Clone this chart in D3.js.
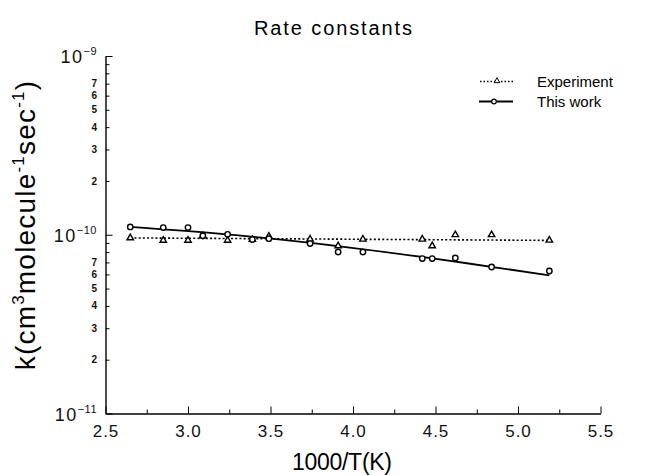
<!DOCTYPE html>
<html>
<head>
<meta charset="utf-8">
<script src="https://cdn.jsdelivr.net/npm/d3@7"></script>
<style>
  body { margin: 0; background: #fff; }
  svg { display: block; font-family: "Liberation Sans", Arial, Helvetica, sans-serif; }
</style>
</head>
<body>
<div id="chart"></div>
<script>
// valores (k em unidades de 1e-10 cm3 molecule-1 s-1)
const invT = [2.65, 2.85, 3.00, 3.09, 3.24, 3.39, 3.49, 3.74, 3.91, 4.06, 4.42, 4.48, 4.62, 4.84, 5.19];
const kExperiment = [0.96, 0.93, 0.93, 0.985, 0.93, 0.94, 0.98, 0.944, 0.866, 0.944, 0.944, 0.866, 1.0, 1.0, 0.932];
const kThisWork = [1.106, 1.097, 1.097, 0.987, 1.006, 0.94, 0.951, 0.893, 0.801, 0.801, 0.736, 0.736, 0.741, 0.660, 0.627];

// curvas ajustadas
const fitExpX = [2.65, 5.19];
const fitExpK = [0.96, 0.93];
const fitWorkX = [2.65, 3.29, 3.98, 4.68, 5.19];
const fitWorkK = [1.106, 0.994, 0.848, 0.695, 0.593];

// eixos
const xTicks = [2.5, 3.0, 3.5, 4.0, 4.5, 5.0, 5.5];
const xMinorTicks = [2.75, 3.25, 3.75, 4.25, 4.75, 5.25];
const yDecades = [1e-11, 1e-10, 1e-9];
const yExponents = ["\u221211", "\u221210", "\u22129"];
const yMinorMult = [2, 3, 4, 5, 6, 7, 8, 9];
const yMinorLabelled = [2, 3, 4, 5, 6, 7];

const width = 649;
const height = 475;

const x = d3.scaleLinear().domain([2.5, 5.5]).range([105.5, 600.5]);
const y = d3.scaleLog().domain([1e-11, 1e-9]).range([413.5, 56]);

const svg = d3.select("#chart")
    .append("svg")
    .attr("width", width)
    .attr("height", height);

svg.append("rect").attr("width", width).attr("height", height).attr("fill", "#fff");

// titulo
svg.append("text")
    .attr("x", 333)
    .attr("y", 35)
    .attr("text-anchor", "middle")
    .attr("font-size", 20)
    .attr("textLength", 158)
    .attr("lengthAdjust", "spacing")
    .text("Rate constants");

// eixo X
const minorY = yDecades.slice(0, 2).flatMap(d => yMinorMult.map(m => d * m));

const gx = svg.append("g")
    .attr("transform", `translate(0,${y(1e-11)})`)
    .call(d3.axisBottom(x).tickValues(xTicks).tickSize(-7).tickSizeOuter(0).tickPadding(11).tickFormat(d3.format(".1f")));
gx.select(".domain").attr("stroke-width", 1.4);
gx.selectAll("text").attr("font-size", 17).attr("letter-spacing", 1).attr("fill", "#111");
gx.attr("font-family", null);

svg.append("g")
    .attr("transform", `translate(0,${y(1e-11)})`)
    .call(d3.axisBottom(x).tickValues(xMinorTicks).tickSize(-4).tickFormat(""))
    .select(".domain").remove();

// eixo Y
const gy = svg.append("g")
    .attr("transform", `translate(${x(2.5)},0)`)
    .call(d3.axisLeft(y).tickValues(yDecades).tickSize(-7).tickSizeOuter(0).tickFormat(""));
gy.select(".domain").attr("stroke-width", 1.4);

svg.append("g")
    .attr("transform", `translate(${x(2.5)},0)`)
    .call(d3.axisLeft(y).tickValues(minorY).tickSize(-4).tickFormat(""))
    .select(".domain").remove();

// rotulos das decadas
const decLabels = svg.append("g")
    .selectAll("text")
    .data(yDecades)
    .join("text")
    .attr("x", 97)
    .attr("y", d => y(d) + 7)
    .attr("text-anchor", "end")
    .attr("font-size", 18)
    .attr("letter-spacing", 1.5)
    .attr("fill", "#111");
decLabels.append("tspan").text("10");
decLabels.append("tspan")
    .attr("font-size", 11)
    .attr("dy", -8)
    .attr("letter-spacing", 0.5)
    .text((d, i) => yExponents[i]);

// rotulos menores
svg.append("g")
    .selectAll("text")
    .data(yDecades.slice(0, 2).flatMap(d => yMinorLabelled.map(m => d * m)))
    .join("text")
    .attr("x", 97)
    .attr("y", d => y(d))
    .attr("dy", "0.36em")
    .attr("text-anchor", "end")
    .attr("font-size", 10)
    .attr("font-weight", 600)
    .attr("fill", "#111")
    .text(d => Math.round(d / Math.pow(10, Math.floor(Math.log10(d) + 1e-9))));

// titulos dos eixos
svg.append("text")
    .attr("x", 342)
    .attr("y", 470)
    .attr("text-anchor", "middle")
    .attr("font-size", 23)
    .attr("textLength", 100)
    .attr("lengthAdjust", "spacing")
    .text("1000/T(K)");

const yTitle = svg.append("text")
    .attr("transform", "translate(35,225) rotate(-90)")
    .attr("text-anchor", "middle")
    .attr("font-size", 28)
    .attr("letter-spacing", 1.2);
yTitle.append("tspan").text("k(cm");
yTitle.append("tspan").attr("font-size", 17).attr("dy", -11).text("3");
yTitle.append("tspan").attr("dy", 11).text("molecule");
yTitle.append("tspan").attr("font-size", 17).attr("dy", -11).text("-1");
yTitle.append("tspan").attr("dy", 11).text("sec");
yTitle.append("tspan").attr("font-size", 17).attr("dy", -11).text("-1");
yTitle.append("tspan").attr("dy", 11).text(")");

// curvas
const line = d3.line()
    .x(d => x(d[0]))
    .y(d => y(d[1] * 1e-10));

svg.append("path")
    .datum(d3.zip(fitExpX, fitExpK))
    .attr("fill", "none")
    .attr("stroke", "#000")
    .attr("stroke-width", 1.6)
    .attr("stroke-dasharray", "2,2.2")
    .attr("d", line);

svg.append("path")
    .datum(d3.zip(fitWorkX, fitWorkK))
    .attr("fill", "none")
    .attr("stroke", "#000")
    .attr("stroke-width", 1.8)
    .attr("d", line.curve(d3.curveMonotoneX));

// pontos
const tri = d3.symbol(d3.symbolTriangle, 18);

svg.append("g")
    .selectAll("path")
    .data(d3.zip(invT, kExperiment))
    .join("path")
    .attr("transform", d => `translate(${x(d[0])},${y(d[1] * 1e-10)})`)
    .attr("d", tri)
    .attr("fill", "#fff")
    .attr("stroke", "#000")
    .attr("stroke-width", 1.4);

svg.append("g")
    .selectAll("circle")
    .data(d3.zip(invT, kThisWork))
    .join("circle")
    .attr("cx", d => x(d[0]))
    .attr("cy", d => y(d[1] * 1e-10))
    .attr("r", 2.7)
    .attr("fill", "#fff")
    .attr("stroke", "#000")
    .attr("stroke-width", 1.4);

// legenda
const legend = svg.append("g");
legend.append("line")
    .attr("x1", 480).attr("x2", 513).attr("y1", 81.5).attr("y2", 81.5)
    .attr("stroke", "#000").attr("stroke-width", 1.3).attr("stroke-dasharray", "1.5,2");
legend.append("path")
    .attr("transform", "translate(497,81)")
    .attr("d", d3.symbol(d3.symbolTriangle, 14))
    .attr("fill", "#fff").attr("stroke", "#000").attr("stroke-width", 1);
legend.append("text")
    .attr("x", 537).attr("y", 81.5).attr("dy", "0.36em")
    .attr("font-size", 15)
    .text("Experiment");

legend.append("line")
    .attr("x1", 479).attr("x2", 513).attr("y1", 101.5).attr("y2", 101.5)
    .attr("stroke", "#000").attr("stroke-width", 1.8);
legend.append("circle")
    .attr("cx", 494).attr("cy", 101.5).attr("r", 2.3)
    .attr("fill", "#fff").attr("stroke", "#000").attr("stroke-width", 1.2);
legend.append("text")
    .attr("x", 537).attr("y", 101.5).attr("dy", "0.36em")
    .attr("font-size", 15)
    .text("This work");
</script>
</body>
</html>
